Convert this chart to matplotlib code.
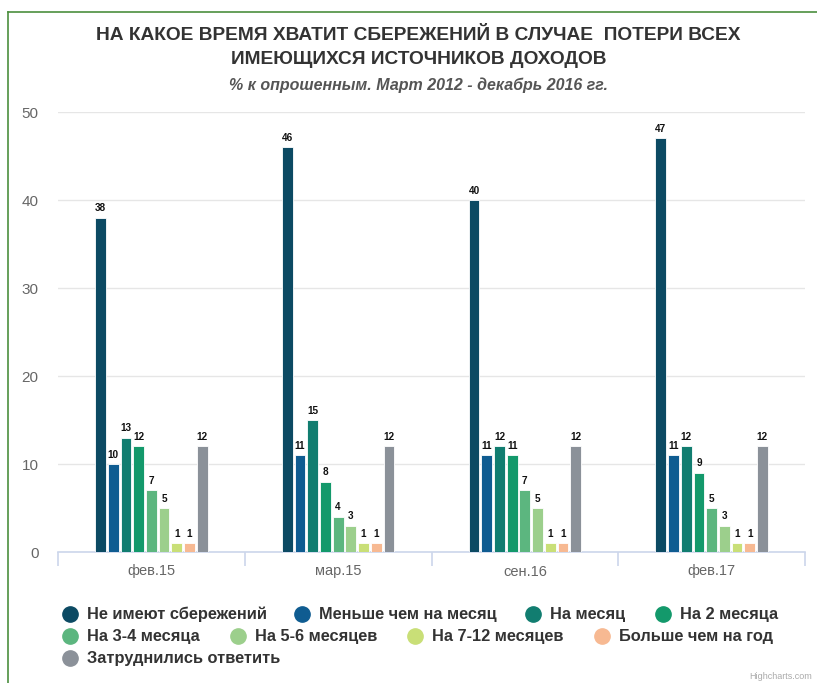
import matplotlib.pyplot as plt
from matplotlib.lines import Line2D
import numpy as np

plt.rcParams['font.family'] = ['Liberation Sans', 'DejaVu Sans']

# survey waves
periods = ['фев.15', 'мар.15', 'сен.16', 'фев.17']

series_names = ['Не имеют сбережений', 'Меньше чем на месяц', 'На месяц', 'На 2 месяца',
                'На 3-4 месяца', 'На 5-6 месяцев', 'На 7-12 месяцев', 'Больше чем на год',
                'Затруднились ответить']
colors = ['#0c4a63', '#0f5c91', '#117d70', '#13996b', '#5cb67f',
          '#9ccf8c', '#c9df77', '#f7b992', '#8b9199']

# % of respondents, one list per answer option (values per period)
no_savings = [38, 46, 40, 47]
less_month = [10, 11, 11, 11]
one_month = [13, 15, 12, 12]
two_months = [12, 8, 11, 9]
three_four = [7, 4, 7, 5]
five_six = [5, 3, 5, 3]
seven_twelve = [1, 1, 1, 1]
over_year = [1, 1, 1, 1]
hard_to_say = [12, 12, 12, 12]

values = [no_savings, less_month, one_month, two_months, three_four,
          five_six, seven_twelve, over_year, hard_to_say]

fig = plt.figure(figsize=(8.17, 6.83), dpi=100)
ax = fig.add_axes([58/817, 131/683, 747/817, 440/683])

x = np.arange(len(periods))
slot = 0.068
width = 0.058
for i, (name, vals, col) in enumerate(zip(series_names, values, colors)):
    pos = x + (i - 4) * slot
    bars = ax.bar(pos, vals, width=width, color=col, edgecolor='white', linewidth=0.6, zorder=3)
    for b, v in zip(bars, vals):
        ax.text(b.get_x() + b.get_width()/2, v + 0.5, str(v), ha='center', va='bottom',
                fontsize=7.2, fontweight='bold', color='#111111', zorder=4)

ax.set_xlim(-0.5, len(periods) - 0.5)
ax.set_ylim(0, 50)
ax.set_yticks(range(0, 51, 10))
ax.grid(axis='y', color='#e6e6e6', linewidth=1, zorder=0)
ax.set_axisbelow(True)
for s in ['top', 'right', 'left']:
    ax.spines[s].set_visible(False)
ax.spines['bottom'].set_color('#ccd6eb')
ax.spines['bottom'].set_linewidth(1.2)
ax.tick_params(axis='y', length=0, labelsize=11, labelcolor='#666666', pad=14)
ax.set_xticks(x)
ax.set_xticklabels(periods)
ax.tick_params(axis='x', length=0, labelsize=10.5, labelcolor='#666666', pad=9)
# category boundary ticks
ax.set_xticks(np.arange(-0.5, len(periods), 1), minor=True)
ax.tick_params(axis='x', which='minor', length=10, color='#ccd6eb', width=1.2)

fig.text(0.512, 1 - 36/683, 'НА КАКОЕ ВРЕМЯ ХВАТИТ СБЕРЕЖЕНИЙ В СЛУЧАЕ  ПОТЕРИ ВСЕХ',
         ha='center', va='center', fontsize=13.8, fontweight='bold', color='#333333')
fig.text(0.512, 1 - 59/683, 'ИМЕЮЩИХСЯ ИСТОЧНИКОВ ДОХОДОВ',
         ha='center', va='center', fontsize=13.8, fontweight='bold', color='#333333')
fig.text(0.512, 1 - 85/683, '% к опрошенным. Март 2012 - декабрь 2016 гг.',
         ha='center', va='center', fontsize=11.5, fontweight='bold', style='italic', color='#555555')

# legend laid out like the original (flowing rows)
legend_pos = [(70, 614), (302, 614), (533, 614), (663, 614),
              (70, 636), (238, 636), (415, 636), (602, 636),
              (70, 658)]
for (px, py), name, col in zip(legend_pos, series_names, colors):
    fig.add_artist(Line2D([px/817], [1 - py/683], marker='o', markersize=11,
                          color=col, linestyle='none', transform=fig.transFigure))
    fig.text((px + 17)/817, 1 - py/683, name, ha='left', va='center',
             fontsize=11.8, fontweight='bold', color='#333333')

# green frame
fig.add_artist(Line2D([8/817, 8/817], [0, 1 - 12/683], color='#4b8f3e', linewidth=1.2,
                      transform=fig.transFigure))
fig.add_artist(Line2D([8/817, 1], [1 - 12/683, 1 - 12/683], color='#4b8f3e', linewidth=1.2,
                      transform=fig.transFigure))
fig.text(812/817, 2/683, 'Highcharts.com', ha='right', va='bottom', fontsize=6.5, color='#aaaaaa')

fig.savefig('out.png', dpi=100)
